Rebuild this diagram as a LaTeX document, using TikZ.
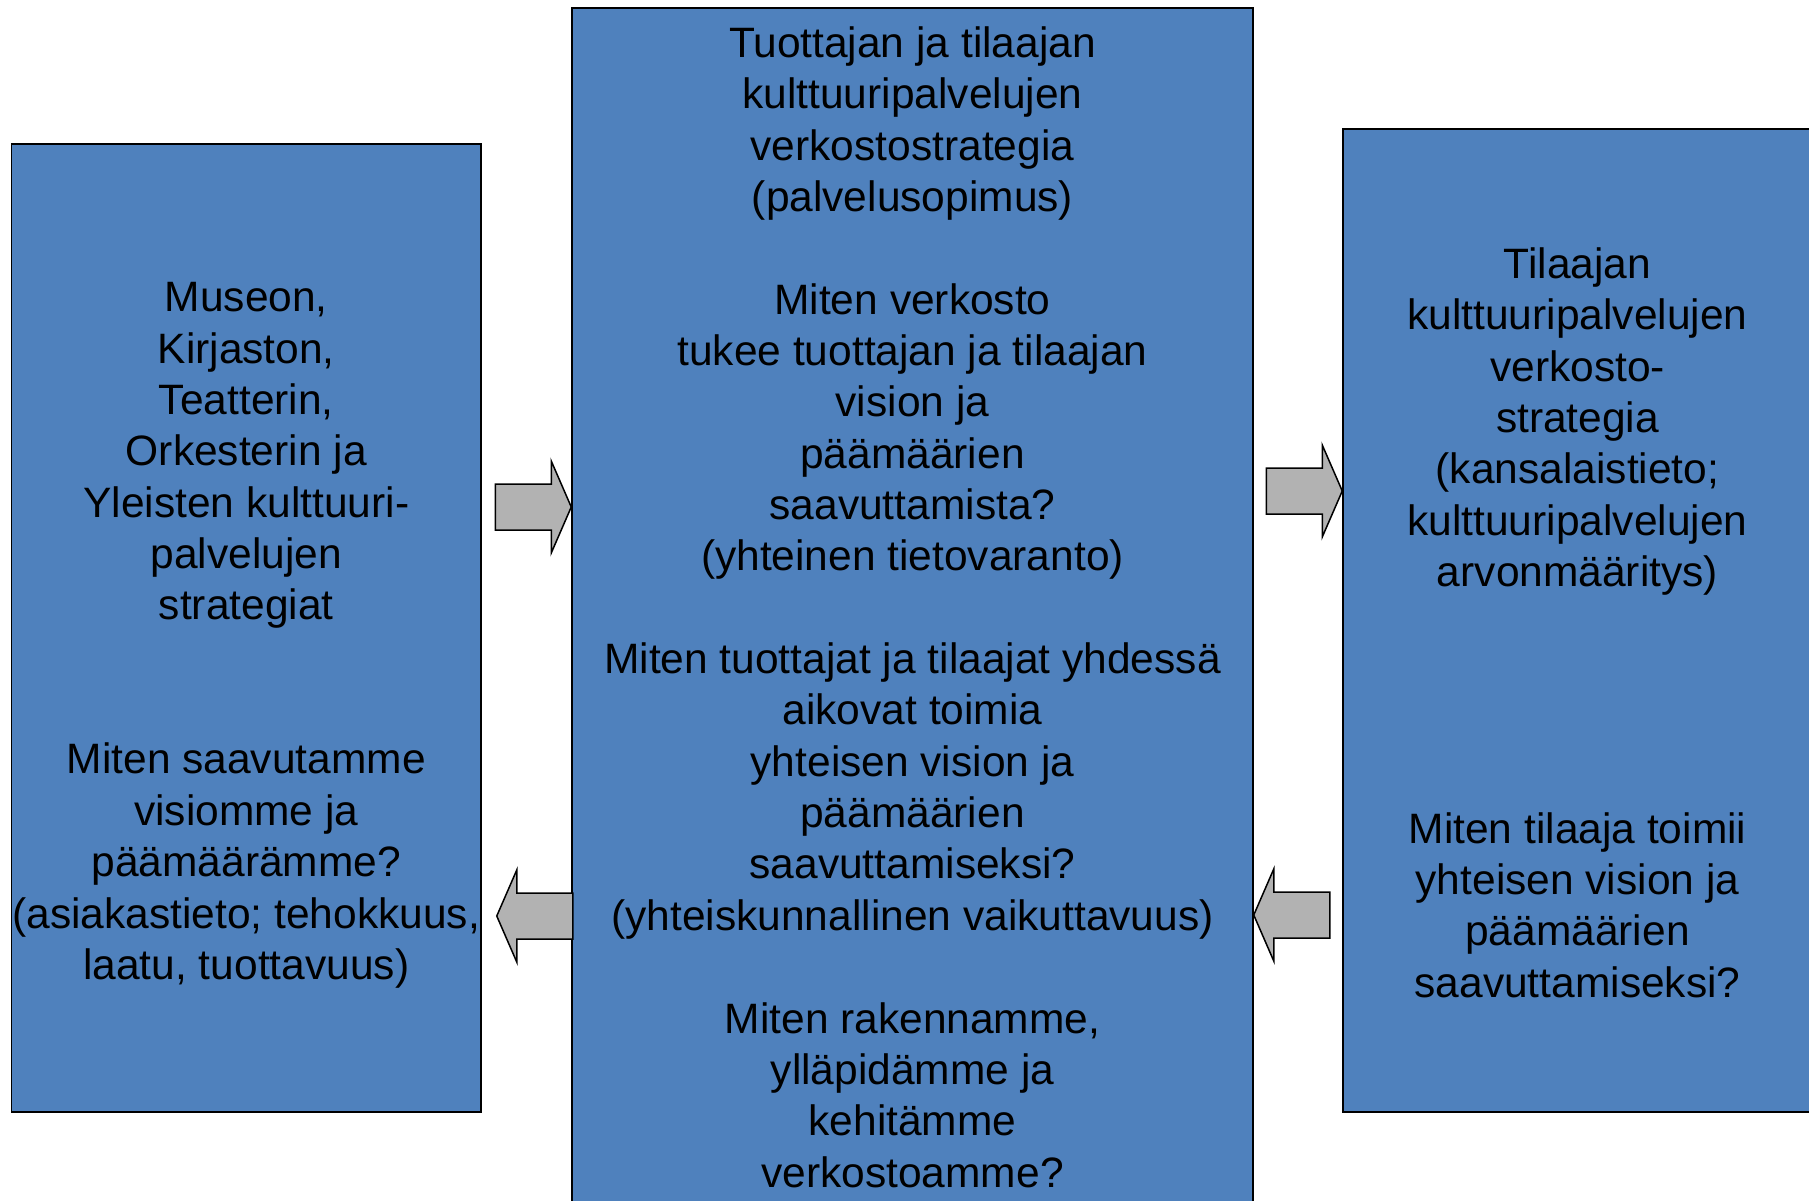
\documentclass[tikz,border=0pt]{standalone}
\usepackage{fontspec}
\setmainfont{Liberation Sans}
\usepackage{xcolor}
\usepackage{tikz}
\usetikzlibrary{calc}

\definecolor{boxblue}{HTML}{4F81BD}
\definecolor{arrowgrey}{HTML}{B2B2B2}

\tikzset{
  bluebox/.style={draw=black, line width=1.5pt, fill=boxblue, inner sep=0pt,
    align=center, font=\fontsize{42.5}{51.35}\selectfont},
  blockarrow/.pic={
    \draw[line width=1.5pt, fill=arrowgrey]
      (0,0) -- (-20,-46) -- (-20,-23) -- (-76,-23) -- (-76,23)
      -- (-20,23) -- (-20,46) -- cycle;
  }
}

\begin{document}
\begin{tikzpicture}[x=1pt,y=-1pt]
    \useasboundingbox (0,0) rectangle (1809,1200);
    % the three strategy levels
    \node[bluebox, minimum width=469.5pt, minimum height=968pt] (units) at (246.25,628)
      {\rule{0pt}{44pt}Museon,\\Kirjaston,\\Teatterin,\\Orkesterin ja\\Yleisten kulttuuri-\\palvelujen\\strategiat\\[102.7pt]
       Miten saavutamme\\visiomme ja\\päämäärämme?\\(asiakastieto; tehokkuus,\\laatu, tuottavuus)};
    \node[bluebox, minimum width=681pt, minimum height=1198pt] (network) at (912.5,607)
      {Tuottajan ja tilaajan\\kulttuuripalvelujen\\verkostostrategia\\(palvelusopimus)\\[51.35pt]
       Miten verkosto\\tukee tuottajan ja tilaajan\\vision ja\\päämäärien\\saavuttamista?\\(yhteinen tietovaranto)\\[51.35pt]
       Miten tuottajat ja tilaajat yhdessä\\aikovat toimia\\yhteisen vision ja\\päämäärien\\saavuttamiseksi?\\(yhteiskunnallinen vaikuttavuus)\\[51.35pt]
       Miten rakennamme,\\ylläpidämme ja\\kehitämme\\verkostoamme?};
    \node[bluebox, minimum width=469pt, minimum height=983pt] (orderer) at (1577.5,620.5)
      {\rule{0pt}{35pt}Tilaajan\\kulttuuripalvelujen\\verkosto-\\strategia\\(kansalaistieto;\\kulttuuripalvelujen\\arvonmääritys)\\[205.4pt]
       Miten tilaaja toimii\\yhteisen vision ja\\päämäärien\\saavuttamiseksi?};
    % block arrows between the boxes
    \pic at (network.west |- 0,507) {blockarrow};
    \pic[rotate=180] at ($(units.east |- 0,916)+(15,0)$) {blockarrow};
    \pic at (orderer.west |- 0,491) {blockarrow};
    \pic[rotate=180] at (network.east |- 0,915) {blockarrow};
\end{tikzpicture}
\end{document}
